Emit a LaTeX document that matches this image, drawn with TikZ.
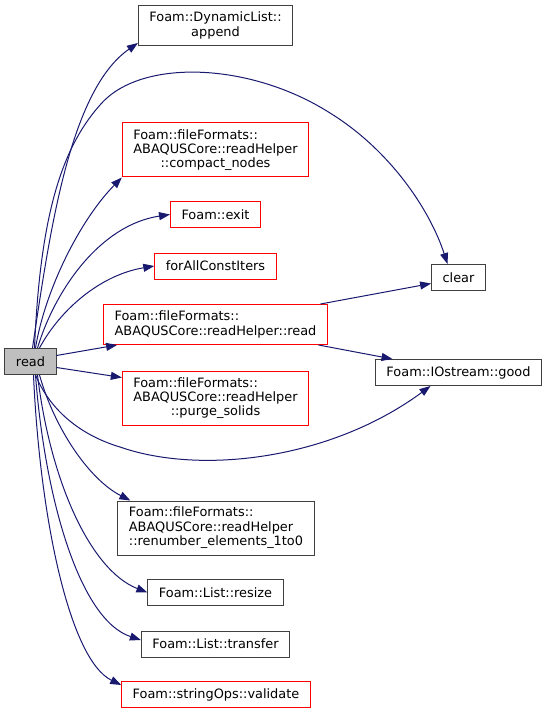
\documentclass[tikz,border=0pt]{standalone}
\usepackage{fontspec}
\setmainfont{DejaVu Sans}
\usetikzlibrary{calc,arrows.meta}
\definecolor{edgeblue}{RGB}{25,25,112}
\definecolor{boxgray}{RGB}{64,64,64}
\definecolor{readfill}{RGB}{191,191,191}

\begin{document}
\begin{tikzpicture}[x=1pt, y=-1pt, font=\fontsize{12.9}{14.4}\selectfont,
    fn/.style={draw=boxgray, line width=1pt, inner xsep=11pt, inner ysep=4pt, minimum height=26pt},
    fnred/.style={fn, draw=red},
    call/.style={draw=edgeblue, line width=1pt, -{Triangle[length=11pt, width=8pt]}}]
    \useasboundingbox (0,0) rectangle (548,714);

    % caller
    \node[fn, fill=readfill] (read) at (30.5,361.5) {read};

    % callees
    \node[fn, align=center, minimum height=40pt] (append) at (215.5,25.5) {Foam::DynamicList::\\append};
    \node[fnred, align=center, minimum height=54pt] (compact) at (215.5,150)
        {\begin{tabular}[b]{@{}l@{}}Foam::fileFormats::\\ABAQUSCore::readHelper\end{tabular}\\::compact\_nodes};
    \node[fnred] (exit) at (215.5,214.5) {Foam::exit};
    \node[fnred] (forall) at (215.5,266) {forAllConstIters};
    \node[fnred, align=left, minimum height=40pt] (rhread) at (215.5,324.5) {Foam::fileFormats::\\ABAQUSCore::readHelper::read};
    \node[fnred, align=center, minimum height=54pt] (purge) at (215.5,398)
        {\begin{tabular}[b]{@{}l@{}}Foam::fileFormats::\\ABAQUSCore::readHelper\end{tabular}\\::purge\_solids};
    \node[fn, align=left, minimum height=54pt] (renumber) at (216,528) {Foam::fileFormats::\\ABAQUSCore::readHelper\\::renumber\_elements\_1to0};
    \node[fn] (resize) at (215.5,592.5) {Foam::List::resize};
    \node[fn] (transfer) at (215.5,644) {Foam::List::transfer};
    \node[fnred] (validate) at (216,694.5) {Foam::stringOps::validate};
    \node[fn] (clear) at (458.5,277.5) {clear};
    \node[fn] (good) at (458.5,372.5) {Foam::IOstream::good};

    % calls going up
    \draw[call] ($(read.north)+(2,0)$) .. controls (50,230) and (70,90) .. ($(append.south west)+(0,-3)$);
    \draw[call] ($(read.north)+(4,0)$) .. controls (40,220) and (60,150) .. (100,105)
        .. controls (140,58) and (250,62) .. (330,113) .. controls (390,150) and (430,210) .. ($(clear.north)+(-11,0)$);
    \draw[call] ($(read.north)+(5,0)$) .. controls (45,290) and (80,220) .. (compact.south west);
    \draw[call] ($(read.north)+(7,0)$) .. controls (55,290) and (100,225) .. (exit.west);
    \draw[call] ($(read.north)+(9,0)$) .. controls (60,310) and (100,275) .. (forall.west);
    \draw[call] ($(read.east)+(0,-6)$) -- ($(rhread.south west)+(14,0)$);
    \draw[call] ($(read.east)+(0,6)$) -- ($(purge.north west)+(0,7)$);

    % calls going down
    \draw[call] ($(read.south)+(5,0)$) .. controls (50,410) and (80,435) .. (120,447)
        .. controls (200,475) and (330,460) .. ($(good.south)+(-28,0)$);
    \draw[call] ($(read.south)+(9,0)$) .. controls (55,430) and (90,480) .. ($(renumber.north west)+(13,0)$);
    \draw[call] ($(read.south)+(7,0)$) .. controls (50,480) and (90,570) .. (resize.west);
    \draw[call] ($(read.south)+(5,0)$) .. controls (45,500) and (80,620) .. ($(transfer.west)+(0,-4)$);
    \draw[call] ($(read.south)+(3,0)$) .. controls (40,520) and (70,660) .. ($(validate.north west)+(0,4)$);

    % calls of readHelper::read
    \draw[call] ($(rhread.north)+(105,0)$) -- ($(clear.west)+(0,6)$);
    \draw[call] ($(rhread.south)+(103,0)$) -- ($(good.north)+(-66,0)$);
\end{tikzpicture}
\end{document}
